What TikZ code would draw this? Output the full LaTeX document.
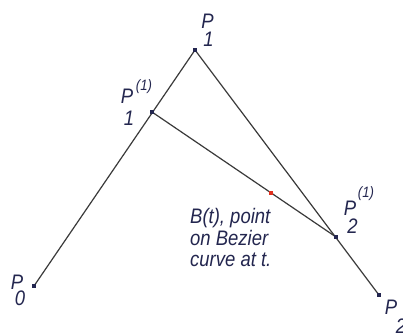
\documentclass[tikz,border=0pt]{standalone}
\usepackage{fontspec}
\setmainfont[FakeStretch=0.88]{Liberation Sans}
\begin{document}
\begin{tikzpicture}[x=1pt,y=-1pt,
  lbl/.style={font=\itshape\fontsize{21}{21}\selectfont, text=navy, inner sep=0pt, anchor=base},
  sup/.style={font=\itshape\fontsize{15}{15}\selectfont, text=navy, inner sep=0pt, anchor=base},
  pt/.style={fill=navy, draw=none, minimum size=4pt, inner sep=0pt, rectangle},
  seg/.style={draw=linegray, line width=1.2pt},
  note/.style={font=\itshape\fontsize{21}{21.5}\selectfont, text=navy, align=left, inner sep=0pt, anchor=north west}]
\definecolor{navy}{HTML}{23264F}
\definecolor{linegray}{HTML}{3A3A3A}
\definecolor{redpt}{HTML}{E0301E}
\path[use as bounding box] (0,0) rectangle (403,335);
\fill[white] (0,0) rectangle (403,335);
% points
\coordinate (P0) at (34,286);
\coordinate (P1) at (195,50);
\coordinate (P2) at (379,295);
\coordinate (Q1) at (152,112);
\coordinate (Q2) at (336,237);
\coordinate (B) at (271,193);
% segments
\draw[seg] (P0) -- (P1) -- (P2);
\draw[seg] (Q1) -- (Q2);
% dots
\node[pt] (d0) at (P0) {};
\node[pt] (d1) at (P1) {};
\node[pt] (d2) at (P2) {};
\node[pt] (dq1) at (Q1) {};
\node[pt] (dq2) at (Q2) {};
\node[pt, fill=redpt, minimum size=3.5pt] (dB) at (B) {};
% labels
\node[lbl] (l0P) at (17,289) {P};
\node[lbl] (l0s) at (20,305.5) {0};
\node[lbl] (l1P) at (207.5,28) {P};
\node[lbl] (l1s) at (208.5,46) {1};
\node[lbl] (lq1P) at (127,103.5) {P};
\node[sup] (lq1u) at (144,90) {(1)};
\node[lbl] (lq1s) at (129,125) {1};
\node[lbl] (lq2P) at (350,215) {P};
\node[sup] (lq2u) at (366,197) {(1)};
\node[lbl] (lq2s) at (352.5,233) {2};
\node[lbl] (l2P) at (391,314.5) {P};
\node[lbl] (l2s) at (401,333) {2};
\node[note] (txt) at (190,208.5) {B(t), point\\on Bezier\\curve at t.};
\end{tikzpicture}
\end{document}
